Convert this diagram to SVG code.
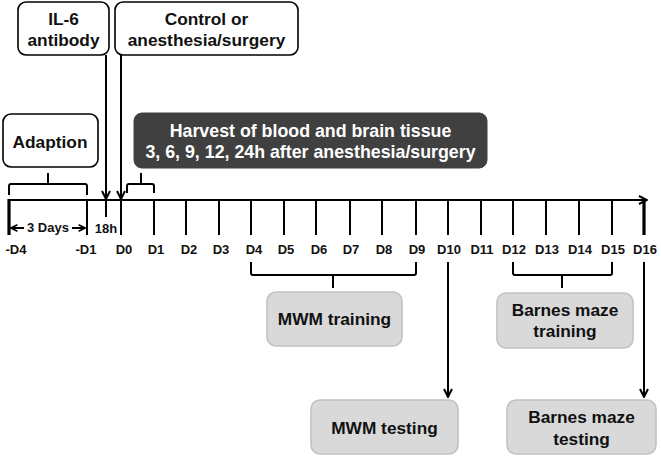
<svg xmlns="http://www.w3.org/2000/svg" width="661" height="457" viewBox="0 0 661 457">
<defs>
<style>
text{font-family:"Liberation Sans",Arial,sans-serif;font-weight:bold;fill:#111;text-anchor:middle}
.lbl{font-size:17.3px}
.day{font-size:13px}
.ln{stroke:#000;stroke-width:2;fill:none}
.thick{stroke:#000;stroke-width:3.2;fill:none}
.wbox{fill:#fff;stroke:#000;stroke-width:1.6}
.gbox{fill:#d9d9d9;stroke:#c2c2c2;stroke-width:1.6}
.dbox{fill:#404040;stroke:#404040}
</style>
<marker id="ah" viewBox="0 0 10 10" refX="9" refY="5" markerWidth="10" markerHeight="10" markerUnits="userSpaceOnUse" orient="auto">
<path d="M1,1 L9,5 L1,9" fill="none" stroke="#000" stroke-width="2"/>
</marker>
<marker id="sah" viewBox="0 0 10 10" refX="9" refY="5" markerWidth="8" markerHeight="8" markerUnits="userSpaceOnUse" orient="auto">
<path d="M1,1 L9,5 L1,9" fill="none" stroke="#000" stroke-width="2"/>
</marker>
</defs>
<rect width="661" height="457" fill="#fff"/>

<g id="connectors">
<line class="ln" x1="9" y1="200" x2="647" y2="200" marker-end="url(#ah)"/>
<line class="thick" x1="9" y1="199" x2="9" y2="235"/>
<line class="ln" x1="87" y1="200" x2="87" y2="235"/>
<line class="ln" x1="121" y1="200" x2="121" y2="235"/>
<line class="ln" x1="154" y1="200" x2="154" y2="235"/>
<line class="ln" x1="186" y1="200" x2="186" y2="235"/>
<line class="ln" x1="219" y1="200" x2="219" y2="235"/>
<line class="ln" x1="251" y1="200" x2="251" y2="235"/>
<line class="ln" x1="284" y1="200" x2="284" y2="235"/>
<line class="ln" x1="316" y1="200" x2="316" y2="235"/>
<line class="ln" x1="350" y1="200" x2="350" y2="235"/>
<line class="ln" x1="382" y1="200" x2="382" y2="235"/>
<line class="ln" x1="416" y1="200" x2="416" y2="235"/>
<line class="ln" x1="448" y1="200" x2="448" y2="235"/>
<line class="ln" x1="481" y1="200" x2="481" y2="235"/>
<line class="ln" x1="513" y1="200" x2="513" y2="235"/>
<line class="ln" x1="546" y1="200" x2="546" y2="235"/>
<line class="ln" x1="579" y1="200" x2="579" y2="235"/>
<line class="ln" x1="612" y1="200" x2="612" y2="235"/>
<line class="thick" x1="644" y1="199" x2="644" y2="235"/>
<line class="ln" x1="106" y1="200" x2="106" y2="217"/>
<line class="ln" x1="106" y1="55" x2="106" y2="199" marker-end="url(#ah)"/>
<line class="ln" x1="121" y1="55" x2="121" y2="199" marker-end="url(#ah)"/>
<path class="ln" d="M9,195 V186 Q9,184 11,184 H85 Q87,184 87,186 V195 M48,184 V173"/>
<path class="ln" d="M127,193 V186 Q127,184 129,184 H152 Q154,184 154,186 V193 M141,184 V173"/>
<line class="ln" x1="24" y1="228" x2="11" y2="228" stroke-width="1.6" marker-end="url(#sah)"/>
<line class="ln" x1="72" y1="228" x2="85" y2="228" stroke-width="1.6" marker-end="url(#sah)"/>
<path class="ln" d="M251,262 V273 Q251,275 253,275 H414 Q416,275 416,273 V262 M333,275 V288"/>
<path class="ln" d="M513,262 V273 Q513,275 515,275 H610 Q612,275 612,273 V262 M562,275 V288"/>
<line class="ln" x1="448" y1="262" x2="448" y2="397" marker-end="url(#ah)"/>
<line class="ln" x1="644" y1="262" x2="644" y2="397" marker-end="url(#ah)"/>
</g>

<g id="il6">
<rect class="wbox" x="18" y="2" width="91" height="53" rx="8"/>
<text class="lbl" x="63.5" y="25">IL-6</text>
<text class="lbl" x="63.5" y="46">antibody</text>
</g>
<g id="control">
<rect class="wbox" x="115" y="2" width="183" height="53" rx="8"/>
<text class="lbl" x="206.5" y="25">Control or</text>
<text class="lbl" x="206.5" y="46">anesthesia/surgery</text>
</g>
<g id="adaption">
<rect class="wbox" x="3" y="114" width="95" height="53" rx="8"/>
<text class="lbl" x="50" y="148">Adaption</text>
</g>
<g id="harvest">
<rect class="dbox" x="134" y="113" width="353" height="55" rx="8"/>
<text class="lbl" x="310.5" y="137" style="fill:#fff;font-size:17.8px">Harvest of blood and brain tissue</text>
<text class="lbl" x="310.5" y="158" style="fill:#fff;font-size:17.8px">3, 6, 9, 12, 24h after anesthesia/surgery</text>
</g>

<g id="labels">
<text class="day" x="16" y="254">-D4</text>
<text class="day" x="86" y="254">-D1</text>
<text class="day" x="124" y="254">D0</text>
<text class="day" x="156" y="254">D1</text>
<text class="day" x="189" y="254">D2</text>
<text class="day" x="221" y="254">D3</text>
<text class="day" x="254" y="254">D4</text>
<text class="day" x="286" y="254">D5</text>
<text class="day" x="319" y="254">D6</text>
<text class="day" x="351" y="254">D7</text>
<text class="day" x="384" y="254">D8</text>
<text class="day" x="417" y="254">D9</text>
<text class="day" x="449" y="254">D10</text>
<text class="day" x="482" y="254">D11</text>
<text class="day" x="514" y="254">D12</text>
<text class="day" x="547" y="254">D13</text>
<text class="day" x="580" y="254">D14</text>
<text class="day" x="613" y="254">D15</text>
<text class="day" x="645" y="254">D16</text>
<text class="day" x="48" y="232">3 Days</text>
<text class="day" x="106" y="233">18h</text>
</g>

<g id="mwm-training">
<rect class="gbox" x="267" y="292" width="135" height="54" rx="9"/>
<text class="lbl" x="334.5" y="325">MWM training</text>
</g>
<g id="barnes-training">
<rect class="gbox" x="497" y="293" width="136" height="55" rx="9"/>
<text class="lbl" x="565" y="316">Barnes maze</text>
<text class="lbl" x="565" y="337">training</text>
</g>
<g id="mwm-testing">
<rect class="gbox" x="311" y="400" width="147" height="54" rx="9"/>
<text class="lbl" x="384.5" y="434">MWM testing</text>
</g>
<g id="barnes-testing">
<rect class="gbox" x="507" y="400" width="149" height="54" rx="9"/>
<text class="lbl" x="581.5" y="423">Barnes maze</text>
<text class="lbl" x="581.5" y="445">testing</text>
</g>
</svg>
